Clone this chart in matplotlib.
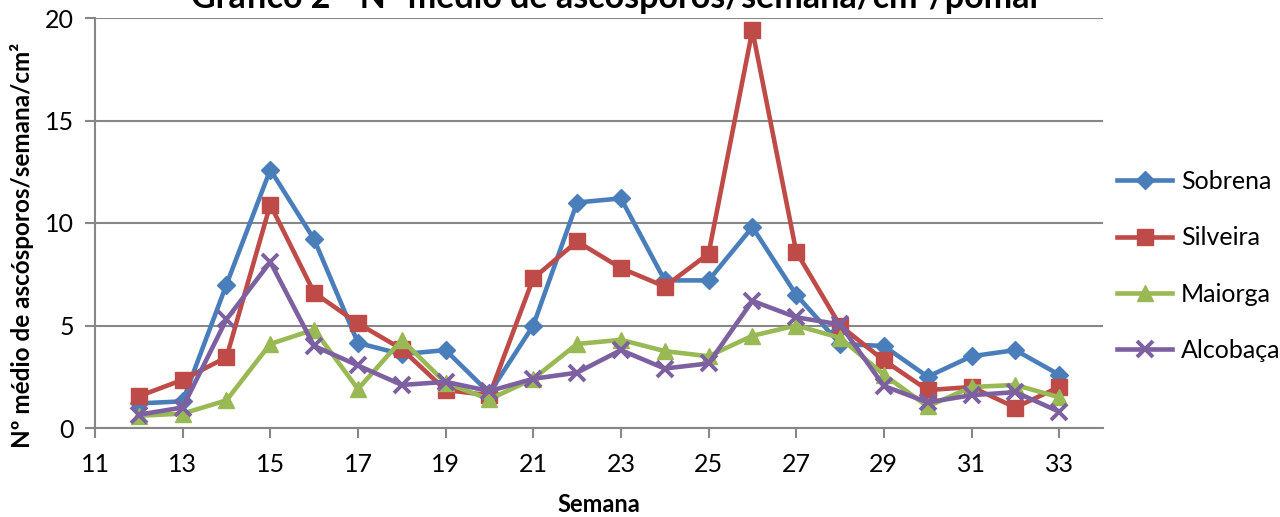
import matplotlib
matplotlib.use("Agg")
import matplotlib.pyplot as plt

plt.rcParams['font.family'] = ['Lato', 'DejaVu Sans']

weeks = list(range(12, 34))
sobrena = [1.2, 1.3, 7.0, 12.6, 9.2, 4.15, 3.6, 3.8, 1.7, 5.0, 11.0, 11.2, 7.2, 7.2, 9.8, 6.5, 4.1, 4.0, 2.5, 3.5, 3.8, 2.6]
silveira = [1.55, 2.35, 3.45, 10.9, 6.6, 5.1, 3.85, 1.85, 1.6, 7.3, 9.1, 7.8, 6.9, 8.5, 19.4, 8.6, 5.0, 3.3, 1.85, 2.0, 1.0, 2.0]
maiorga = [0.6, 0.7, 1.35, 4.1, 4.8, 1.9, 4.3, 2.2, 1.4, 2.4, 4.1, 4.3, 3.75, 3.5, 4.5, 5.0, 4.4, 2.6, 1.05, 2.0, 2.1, 1.5]
alcobaca = [0.65, 1.0, 5.3, 8.1, 4.0, 3.05, 2.1, 2.25, 1.8, 2.4, 2.7, 3.8, 2.9, 3.15, 6.2, 5.4, 5.05, 2.05, 1.25, 1.6, 1.75, 0.8]

series_names = ["Sobrena", "Silveira", "Maiorga", "Alcobaça"]
x_ticks = list(range(11, 34, 2))
y_ticks = [0, 5, 10, 15, 20]

title = "Gráfico 2 - Nº médio de ascósporos/semana/cm²/pomar"
xlabel = "Semana"
ylabel = "Nº médio de ascósporos/semana/cm²"

colors = ["#4A7EBB", "#BE4B48", "#98B954", "#7D60A0"]
markers = ["D", "s", "^", "x"]
msizes = [9, 11, 11, 11]

fig = plt.figure(figsize=(12.8, 5.17), dpi=100)
ax = fig.add_axes([95/1280, 1 - 428/517, (1103 - 95)/1280, (428 - 18)/517])

data = [sobrena, silveira, maiorga, alcobaca]
handles = []
for name, vals, c, m, ms in zip(series_names, data, colors, markers, msizes):
    h, = ax.plot(weeks, vals, color=c, lw=3.3, marker=m, ms=ms,
                 mew=2.8 if m == "x" else 1, mec=c, mfc=c, label=name,
                 solid_joinstyle='round', clip_on=False, zorder=3)
    handles.append(h)

ax.set_xlim(11, 34)
ax.set_ylim(0, 20)
ax.set_xticks(x_ticks)
ax.set_yticks(y_ticks)
ax.yaxis.grid(True, color="#878787", lw=1.5)
ax.set_axisbelow(True)
for s in ["top", "right"]:
    ax.spines[s].set_visible(False)
for s in ["left", "bottom"]:
    ax.spines[s].set_color("#878787")
    ax.spines[s].set_linewidth(1.5)
ax.tick_params(axis="both", colors="#878787", width=1.5, length=7, labelsize=18,
               labelcolor="black")
ax.tick_params(axis="x", pad=11)
ax.tick_params(axis="y", pad=8)

ax.set_xlabel(xlabel, fontsize=17, fontweight="bold", labelpad=12)
fig.text(22/1280, 1 - 245/517, ylabel, rotation=90, fontsize=17.5, fontweight="bold",
         ha="center", va="center")
fig.text(617/1280, 1 - 8/517, title, fontsize=24.5, fontweight="bold", ha="center", va="baseline")

leg = fig.legend(handles=handles, loc="center left", bbox_to_anchor=(1117/1280, 1 - 266/517),
                 frameon=False, fontsize=18, handlelength=2.2, labelspacing=1.33,
                 handletextpad=0.35, borderaxespad=0, borderpad=0)

fig.savefig("out.png", dpi=100)
